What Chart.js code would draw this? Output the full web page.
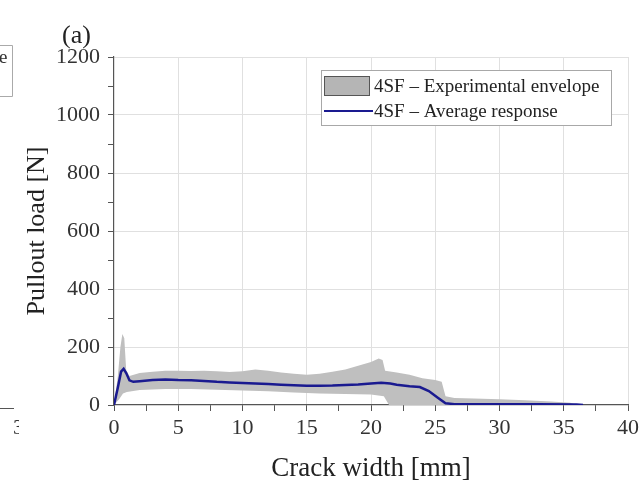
<!DOCTYPE html>
<html><head><meta charset="utf-8">
<script src="https://cdn.jsdelivr.net/npm/chart.js@4.4.1/dist/chart.umd.min.js"></script>
<style>html,body{margin:0;padding:0;background:#fff}#wrap{position:relative;width:643px;height:488px}</style>
</head><body><div id="wrap"><canvas id="c" width="643" height="488"></canvas></div>
<script>
// ---- data ----
const seriesNames = ['4SF \u2013 Average response', '4SF \u2013 Experimental envelope'];
const panelLabel = '(a)';
const xTitle = 'Crack width [mm]';
const yTitle = 'Pullout load [N]';
const xTickLabels = [0, 5, 10, 15, 20, 25, 30, 35, 40];
const yTickLabels = [0, 200, 400, 600, 800, 1000, 1200];

const avgX = [0, 0.3, 0.55, 0.75, 0.95, 1.2, 1.5, 2, 3, 4, 5, 6, 7, 8, 9, 10, 11, 12, 13, 14, 15, 16, 17, 18, 19, 20, 20.8, 21.5, 22, 23, 23.8, 24.5, 25.2, 25.8, 26.5, 30, 33, 36, 36.5];
const avgY = [0, 60, 115, 125, 110, 85, 80, 82, 86, 88, 86, 85, 83, 80, 78, 76, 74, 72, 70, 68, 66, 66, 67, 69, 71, 74, 77, 74, 70, 65, 62, 48, 25, 6, 3, 3, 3, 2, 0];

const upX = [0, 0.3, 0.5, 0.65, 0.8, 0.95, 1.2, 1.6, 2, 3, 4, 5, 6, 7, 8, 9, 10, 11, 12, 13, 14, 15, 16, 17, 18, 19, 20, 20.6, 20.9, 21.1, 22, 23, 24, 25, 25.5, 25.8, 26.5, 28, 30, 32, 34, 35.5, 36];
const upY = [0, 100, 200, 245, 230, 120, 100, 105, 110, 115, 118, 118, 117, 118, 116, 114, 116, 122, 118, 112, 108, 104, 108, 115, 122, 135, 148, 160, 155, 118, 112, 104, 92, 86, 80, 30, 24, 22, 20, 16, 12, 8, 0];

const loX = [0, 0.4, 0.7, 1, 1.5, 2, 4, 6, 8, 10, 12, 14, 16, 18, 20, 21, 21.4, 26, 36];
const loY = [0, 20, 40, 45, 48, 52, 55, 55, 53, 50, 47, 43, 40, 38, 36, 30, 0, 0, 0];

// ---- build ----
const pts = (xs, ys) => xs.map((x, i) => ({x: x, y: ys[i]}));
const avgColor = '#1a1a90';
const envColor = '#bfbfbf';
const serif = '"Liberation Serif", "DejaVu Serif", serif';

const deco = {
  id: 'deco',
  afterDraw(chart) {
    const ctx = chart.ctx;
    ctx.save();
    // panel label
    ctx.font = '26px ' + serif;
    ctx.fillStyle = '#222';
    ctx.textBaseline = 'alphabetic';
    ctx.textAlign = 'left';
    ctx.fillText(panelLabel, 62, 43);
    // legend
    ctx.fillStyle = '#fff';
    ctx.fillRect(321, 70, 291, 56);
    ctx.strokeStyle = '#a8a8a8';
    ctx.lineWidth = 1;
    ctx.strokeRect(321.5, 70.5, 290, 55);
    ctx.fillStyle = '#b5b5b5';
    ctx.fillRect(324, 76, 46, 20);
    ctx.strokeStyle = '#555';
    ctx.strokeRect(324.5, 76.5, 45, 19);
    ctx.strokeStyle = avgColor;
    ctx.lineWidth = 2;
    ctx.beginPath(); ctx.moveTo(324, 111); ctx.lineTo(373, 111); ctx.stroke();
    ctx.font = '19px ' + serif;
    ctx.fillStyle = '#222';
    ctx.fillText(chart.data.datasets[1].label, 374, 92);
    ctx.fillText(chart.data.datasets[0].label, 374, 117);
    // fragment of neighbouring panel at left edge
    ctx.strokeStyle = '#aaa';
    ctx.lineWidth = 1;
    ctx.beginPath(); ctx.moveTo(0, 45.5); ctx.lineTo(12.5, 45.5); ctx.lineTo(12.5, 96.5); ctx.lineTo(0, 96.5); ctx.stroke();
    ctx.beginPath(); ctx.rect(0, 0, 19, 488); ctx.clip();
    ctx.fillStyle = '#333';
    ctx.font = '19px ' + serif;
    ctx.fillText('e', -1, 63);
    ctx.strokeStyle = '#555';
    ctx.beginPath(); ctx.moveTo(0, 408.5); ctx.lineTo(14, 408.5); ctx.stroke();
    ctx.font = '22px ' + serif;
    ctx.fillText('3', 13, 434);
    ctx.restore();
  }
};

new Chart(document.getElementById('c'), {
  type: 'line',
  data: {
    datasets: [
      { label: seriesNames[0], data: pts(avgX, avgY), borderColor: avgColor, borderWidth: 2.5, pointRadius: 0, fill: false, tension: 0 },
      { label: seriesNames[1], data: pts(upX, upY), borderWidth: 0, borderColor: envColor, backgroundColor: envColor, pointRadius: 0, fill: '+1', tension: 0 },
      { label: 'lower', data: pts(loX, loY), borderWidth: 0, borderColor: envColor, pointRadius: 0, fill: false, tension: 0 }
    ]
  },
  options: {
    responsive: false,
    animation: false,
    devicePixelRatio: 1,
    layout: { padding: { left: 10, top: 57, right: 15, bottom: 0 } },
    plugins: { legend: { display: false }, tooltip: { enabled: false }, title: { display: false } },
    scales: {
      x: {
        type: 'linear', min: 0, max: 40,
        afterFit: s => { s.height = 83; },
        border: { display: true, color: '#555', width: 1.2 },
        grid: {
          color: c => (c.tick && c.tick.value % 5 === 0 && c.tick.value !== 0) ? '#e0e0e0' : 'rgba(0,0,0,0)',
          tickColor: '#555', tickLength: 6, lineWidth: 1
        },
        ticks: {
          stepSize: 2.5, autoSkip: false, maxRotation: 0, padding: 4,
          color: '#333', font: { family: serif, size: 22 },
          callback: v => xTickLabels.includes(v) ? String(v) : ''
        },
        title: { display: true, text: xTitle, color: '#222', font: { family: serif, size: 27 }, padding: { top: 0, bottom: 3 } }
      },
      y: {
        min: 0, max: 1200,
        afterFit: s => { s.width = 104; },
        border: { display: true, color: '#555', width: 1.2 },
        grid: {
          color: c => (c.tick && c.tick.value % 200 === 0 && c.tick.value !== 0) ? '#e0e0e0' : 'rgba(0,0,0,0)',
          tickColor: '#555', tickLength: 6, lineWidth: 1
        },
        ticks: {
          stepSize: 100, autoSkip: false, padding: 8,
          color: '#333', font: { family: serif, size: 22 },
          callback: v => yTickLabels.includes(v) ? String(v) : ''
        },
        title: { display: true, text: yTitle, color: '#222', font: { family: serif, size: 26 }, padding: { top: 12, bottom: 0 } }
      }
    }
  },
  plugins: [deco]
});
</script>
</body></html>
